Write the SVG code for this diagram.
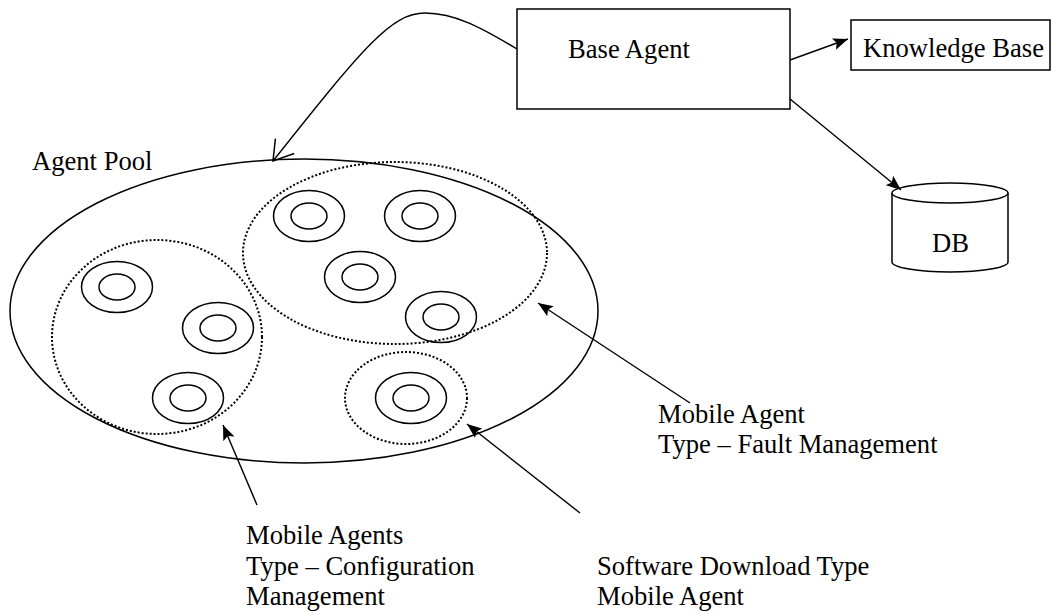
<svg xmlns="http://www.w3.org/2000/svg" width="1052" height="612" viewBox="0 0 1052 612">
<style>
  .t { font-family: "Liberation Serif", "Times New Roman", serif; font-size: 26.6px; fill: #000; }
  .box { fill: #fff; stroke: #000; stroke-width: 1.5; }
  .pool { fill: none; stroke: #000; stroke-width: 1.5; }
  .grp { fill: none; stroke: #000; stroke-width: 2; stroke-dasharray: 2 2; }
  .ring { fill: none; stroke: #000; stroke-width: 1.5; }
  .con { fill: none; stroke: #000; stroke-width: 1.4; }
</style>
<defs>
  <marker id="ah" markerUnits="userSpaceOnUse" markerWidth="16" markerHeight="12" refX="15" refY="6" orient="auto">
    <path d="M0,0 L15,6 L0,12 L3,6 z" fill="#000"/>
  </marker>
  <marker id="open" markerUnits="userSpaceOnUse" markerWidth="24" markerHeight="26" refX="21" refY="13" orient="auto">
    <path d="M2,1 L21,13 L2,25" fill="none" stroke="#000" stroke-width="1.5"/>
  </marker>
  <g id="agent">
    <ellipse cx="0" cy="0" rx="35.5" ry="25.5" class="ring"/>
    <ellipse cx="0" cy="0" rx="18" ry="13" class="ring"/>
  </g>
</defs>
<rect width="1052" height="612" fill="#fff"/>

<g id="agent-pool">
  <ellipse cx="304" cy="311" rx="294" ry="152" class="pool"/>
  <text class="t" x="32" y="170">Agent Pool</text>
</g>

<g id="config-group">
  <ellipse cx="157" cy="337" rx="105" ry="97" class="grp"/>
  <use href="#agent" x="117" y="287"/>
  <use href="#agent" x="218" y="328"/>
  <use href="#agent" x="188" y="398"/>
</g>

<g id="fault-group">
  <ellipse cx="395" cy="253" rx="152" ry="91" class="grp"/>
  <use href="#agent" x="309" y="216"/>
  <use href="#agent" x="420" y="216"/>
  <use href="#agent" x="360" y="277"/>
  <use href="#agent" x="441" y="317"/>
</g>

<g id="software-group">
  <ellipse cx="406" cy="398" rx="61" ry="46" class="grp"/>
  <use href="#agent" x="411" y="398"/>
</g>

<g id="base-agent">
  <rect x="517" y="9" width="273" height="100" class="box"/>
  <text class="t" x="568" y="58">Base Agent</text>
</g>

<g id="knowledge-base">
  <rect x="851" y="20" width="199" height="50" class="box"/>
  <text class="t" x="863" y="57">Knowledge Base</text>
</g>

<g id="db">
  <path d="M892,193 A58,10 0 0 1 1008,193 L1008,262 A58,10 0 0 1 892,262 Z" class="box"/>
  <path d="M892,193 A58,10 0 0 0 1008,193" class="box" fill="none"/>
  <text class="t" x="932" y="252">DB</text>
</g>

<g id="label-fault">
  <text class="t" x="658" y="423">Mobile Agent</text>
  <text class="t" x="658" y="453">Type – Fault Management</text>
</g>
<g id="label-config">
  <text class="t" x="246" y="544">Mobile Agents</text>
  <text class="t" x="246" y="574.5">Type – Configuration</text>
  <text class="t" x="246" y="605">Management</text>
</g>
<g id="label-software">
  <text class="t" x="597" y="574.5">Software Download Type</text>
  <text class="t" x="597" y="605">Mobile Agent</text>
</g>

<g id="connectors">
  <path d="M517,49 C482,28 455,13 425,13 C392,13 365,45 273,161" class="con" marker-end="url(#open)"/>
  <line x1="790" y1="60" x2="848" y2="39" class="con" marker-end="url(#ah)"/>
  <line x1="790" y1="99" x2="901" y2="190" class="con" marker-end="url(#ah)"/>
  <line x1="690" y1="403" x2="538" y2="303" class="con" marker-end="url(#ah)"/>
  <line x1="580" y1="513" x2="467" y2="424" class="con" marker-end="url(#ah)"/>
  <line x1="257" y1="505" x2="223" y2="425" class="con" marker-end="url(#ah)"/>
</g>
</svg>
